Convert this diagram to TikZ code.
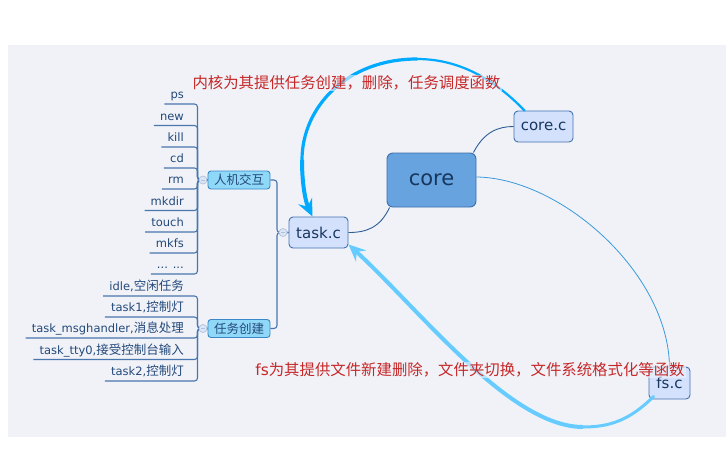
\documentclass[tikz,border=0pt]{standalone}
\usepackage{fontspec}
\setmainfont{DejaVu Sans}
\newfontfamily\cjk{Noto Sans CJK SC}
\usetikzlibrary{arrows.meta,calc}
\definecolor{bgc}{HTML}{F0F2F8}
\definecolor{leaftext}{HTML}{23497A}
\definecolor{branchc}{HTML}{4A76AE}
\definecolor{corefill}{HTML}{66A3DF}
\definecolor{coreborder}{HTML}{3C6EA8}
\definecolor{subfill}{HTML}{D3E1FD}
\definecolor{subborder}{HTML}{4472B0}
\definecolor{midfill}{HTML}{90D8F8}
\definecolor{midborder}{HTML}{3A88C8}
\definecolor{nodetext}{HTML}{17375E}
\definecolor{arcone}{HTML}{00AAFF}
\definecolor{arctwo}{HTML}{66CCFF}
\definecolor{thinc}{HTML}{2F5E96}
\definecolor{fsline}{HTML}{3A9AD9}
\definecolor{redc}{HTML}{C62828}
\definecolor{markfill}{HTML}{DCE5F4}
\definecolor{markdraw}{HTML}{AFC3E0}
\newcommand{\zh}[1]{{\cjk\fontsize{12.5}{14}\selectfont #1}}
\newcommand{\mydots}{... ...}
\begin{document}
\begin{tikzpicture}[x=1pt,y=-1pt,
  leaf/.style={font=\fontsize{11.5}{13}\selectfont, text=leaftext, inner sep=0pt, anchor=base east},
  branch/.style={draw=branchc, line width=1.1pt, rounded corners=3pt},
  sub/.style={draw=subborder, fill=subfill, line width=0.9pt, rounded corners=4pt, text=nodetext,
    font=\fontsize{15}{18}\selectfont, minimum width=59pt, minimum height=31pt, inner sep=0pt},
  mid/.style={draw=midborder, fill=midfill, line width=0.9pt, rounded corners=3pt, text=leaftext,
    minimum width=62pt, minimum height=18pt, inner sep=0pt},
  marker/.style={circle, draw=markdraw, fill=markfill, line width=0.7pt, minimum size=8pt, inner sep=0pt},
  markline/.style={draw=markdraw, line width=0.8pt},
  thin/.style={draw=thinc, line width=0.9pt},
  redtext/.style={text=redc, font=\fontsize{15.4}{18}\selectfont, fill=bgc, fill opacity=0.6, text opacity=1, inner sep=1pt},
  bigarrow/.style={-{Stealth[length=17pt,width=15pt,inset=6pt]}},
]
\useasboundingbox (0,0) rectangle (728,455);
\fill[bgc] (8,45) rectangle (726,437);

% main nodes
\node[draw=coreborder, fill=corefill, line width=0.9pt, rounded corners=6pt, text=nodetext,
  font=\fontsize{21}{24}\selectfont, minimum width=89pt, minimum height=54pt, inner sep=0pt] (core) at (431.5,180) {core};
\node[sub] (cc) at (543.5,126.5) {core.c};
\node[sub] (tk) at (318.5,232.5) {task.c};
\node[sub, minimum width=41pt, minimum height=32pt] (fs) at (669.5,383) {fs.c};
\node[mid] (hmi) at (239,180) {\zh{人机交互}};
\node[mid] (tc) at (239,328.5) {\zh{任务创建}};

% leaves of 人机交互
\foreach \t/\y [count=\i] in {ps/104,new/125.5,kill/147,cd/168,rm/189,mkdir/210.5,touch/232,mkfs/253,\mydots/274}{
  \node[leaf] (a\i) at (184,\y-5.5) {\t};
  \draw[branch] ([xshift=-6pt]a\i.base west |- 0,\y) -- (197.5,\y) |- (hmi.west);
}
% leaves of 任务创建
\foreach \t/\y [count=\i] in {{idle,\zh{空闲任务}}/296,{task1,\zh{控制灯}}/317,{task\_msghandler,\zh{消息处理}}/338,{task\_tty0,\zh{接受控制台输入}}/359.5,{task2,\zh{控制灯}}/381}{
  \node[leaf] (b\i) at (184,\y-5.5) {\t};
  \draw[branch] ([xshift=-6pt]b\i.base west |- 0,\y) -- (197.5,\y) |- (tc.west);
}
% task.c to its children
\draw[branch] (tk.west) -- (277,232.5) |- (hmi.east);
\draw[branch] (tk.west) -- (277,232.5) |- (tc.east);

% markers
\node[marker] (m1) at (203,180) {};
\node[marker] (m2) at (203,328.5) {};
\node[marker] (m3) at (283,232.5) {};
\foreach \m in {m1,m2,m3}{
  \draw[markline] ([xshift=-2pt]\m.center) -- ([xshift=2pt]\m.center);
}

% thin connectors from core
\draw[thin] ([xshift=-3pt]core.north east) .. controls (484,132) and (498,126.5) .. (cc.west);
\draw[thin] ([xshift=3pt]core.south west) .. controls (380,228) and (366,232.5) .. (tk.east);
\draw[draw=fsline, line width=0.8pt] ([yshift=3pt]core.east) .. controls (560,178) and (668,272) .. (fs.north);

% big arc core.c -> task.c
\draw[arcone, line width=2.2pt, line cap=round] ([xshift=11pt]cc.north west) .. controls (495,80) and (460,59) .. (417,59);
\draw[arcone, line width=3.2pt, line cap=round] (417,59) .. controls (347,59) and (302,107) .. (302,160);
\draw[arcone, line width=4pt, bigarrow] (302,160) .. controls (302,190) and (307,205) .. ([xshift=-6pt]tk.north);

% big arc fs.c -> task.c
\draw[arctwo, line width=3pt, line cap=round] ([xshift=5pt,yshift=3pt]fs.south west) .. controls (630,420) and (610,427) .. (583,427);
\draw[arctwo, line width=4pt, bigarrow] (583,427) .. controls (510,427) and (420,310) .. ([yshift=4pt]tk.south east);

% red annotations
\node[redtext] (t1) at (346.5,83) {\cjk 内核为其提供任务创建，删除，任务调度函数};
\node[redtext] (t2) at (470,370) {fs\cjk 为其提供文件新建删除，文件夹切换，文件系统格式化等函数};
\end{tikzpicture}
\end{document}
